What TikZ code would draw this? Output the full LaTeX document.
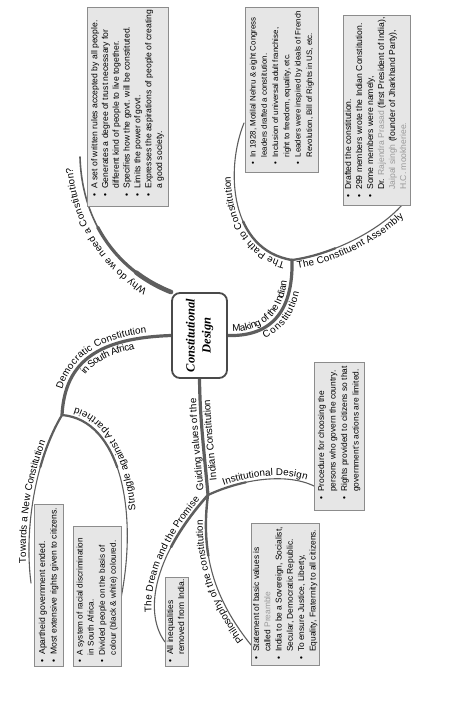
\documentclass[tikz,border=0pt]{standalone}
\usepackage{fontspec}
\setmainfont{Liberation Sans}
\newfontfamily\titlefont{Liberation Serif}
\usetikzlibrary{decorations.text,backgrounds}
\definecolor{MapLine}{HTML}{5E5E5E}
\definecolor{MapDark}{HTML}{4A4A4A}
\definecolor{MapBox}{HTML}{E6E6E6}
\definecolor{MapEdge}{HTML}{8C8C8C}
\definecolor{MapNote}{HTML}{9A9A9A}
\newcommand{\bul}{\makebox[0.85em][l]{\textbullet}}
\newcommand{\ind}{\hspace*{0.85em}}
\newcommand{\note}[1]{\textcolor{MapNote}{#1}}
% box height, font size, line skip, bottom pad, lines
\newcommand{\boxtext}[5]{\rotatebox{90}{\makebox[#1][l]{\hspace*{#4}\fontsize{#2}{#3}\selectfont
  \begin{tabular}{@{}l@{}}#5\end{tabular}}}}
\newcommand{\lblfont}{\fontsize{9.8}{11}\selectfont}

\begin{document}
\begin{tikzpicture}[x=1pt,y=-1pt,
    infobox/.style={draw=MapEdge,fill=MapBox,line width=0.8pt,inner sep=0pt},
    mainbranch/.style={draw=MapLine,line width=3.2pt,line cap=round},
    subbranch/.style={draw=MapLine,line width=1.1pt,line cap=round},
    thickfrom/.style 2 args={postaction={draw=MapLine,line width=#1,dash pattern=on #2 off 3000pt}},
    thickto/.style 2 args={postaction={draw=MapLine,line width=#1,dash pattern=on 3000pt off 3000pt,dash phase=#2}},
    lbl/.style n args={3}{postaction={decorate,decoration={text along path,
        text={|\lblfont|#1},raise=#2,text align={#3}}}}]
  \useasboundingbox (0,0) rectangle (474,701);
  % centre
  \node[draw=MapDark,line width=1.8pt,rounded corners=8pt,fill=white,
        minimum width=55pt,minimum height=85pt,inner sep=0pt] (cd) at (199.5,335.5)
       {\rotatebox{90}{\titlefont\bfseries\itshape\fontsize{12.5}{16}\selectfont
        \begin{tabular}{@{}c@{}}Constitutional\\Design\end{tabular}}};
  % info boxes
  \node[infobox,minimum width=81pt,minimum height=199pt] (bWhy) at (127.5,106.5) {\boxtext{199pt}{8.6}{10.8}{10pt}{%
    \bul A set of written rules accepted by all people.\\
    \bul Generates a degree of trust necessary for\\
    \ind different kind of people to live together.\\
    \bul Specifies how the govt. will be constituted.\\
    \bul Limits the power of govt.\\
    \bul Expresses the aspirations of people of creating\\
    \ind a good society.}};
  \node[infobox,minimum width=73pt,minimum height=165pt] (b1928) at (281.5,89.5) {\boxtext{165pt}{7.9}{11.3}{8pt}{%
    \bul In 1928, Motilal Nehru \& eight Congress\\
    \ind leaders drafted a constitution.\\
    \bul Inclusion of universal adult franchise,\\
    \ind right to freedom, equality, etc.\\
    \bul Leaders were inspired by ideals of French\\
    \ind Revolution, Bill of Rights in US, etc.}};
  \node[infobox,minimum width=67pt,minimum height=190pt] (bCA) at (376.5,110) {\boxtext{190pt}{8.6}{11}{8pt}{%
    \bul Drafted the constitution.\\
    \bul 299 members wrote the Indian Constitution.\\
    \bul Some members were namely,\\
    \ind Dr. \note{Rajendra Prasad} (first President of India),\\
    \ind \note{Jaipal singh} (founder of Jharkhand Party),\\
    \ind \note{H.C. mookheriee.}}};
  \node[infobox,minimum width=29pt,minimum height=162pt] (bTow) at (48.5,585) {\boxtext{162pt}{8.6}{11.5}{4pt}{%
    \bul Apartheid government ended.\\
    \bul Most extensive rights given to citizens.}};
  \node[infobox,minimum width=48pt,minimum height=140pt] (bStr) at (97,596) {\boxtext{140pt}{8.2}{11.1}{4pt}{%
    \bul A system of racial discrimination\\
    \ind in South Africa.\\
    \bul Divided people on the basis of\\
    \ind colour (black \& white) coloured.}};
  \node[infobox,minimum width=23pt,minimum height=89pt] (bDream) at (176.5,621.5) {\boxtext{89pt}{8.5}{11}{4pt}{%
    \bul All inequalities\\
    \ind removed from India.}};
  \node[infobox,minimum width=68pt,minimum height=142pt] (bPhil) at (285,594) {\boxtext{142pt}{8.4}{11.3}{6pt}{%
    \bul Statement of basic values is\\
    \ind called \note{Preamble}\\
    \bul India to be a Sovereign, Socialist,\\
    \ind Secular, Democratic Republic.\\
    \bul To ensure Justice, Liberty,\\
    \ind Equality, Fraternity to all citizens.}};
  \node[infobox,minimum width=50pt,minimum height=148pt] (bInst) at (339,436) {\boxtext{148pt}{8.4}{11.5}{11pt}{%
    \bul Procedure for choosing the\\
    \ind persons who govern the country.\\
    \bul Rights provided to citizens so that\\
    \ind government's actions are limited.}};
  % junctions and free ends
  \coordinate (jSA) at (62,415);
  \coordinate (jMK) at (292,260);
  \coordinate (jGV) at (208,495);
  \coordinate (eWhy) at (80,157);
  \coordinate (eTow) at (31,583);
  \coordinate (ePath) at (244,123);
  \coordinate (eCA) at (402,205);
  \coordinate (eInst) at (314,486);
  \coordinate (eDream) at (165,642);
  \coordinate (ePhil) at (251,645);
  \begin{scope}[on background layer]
    % main branches
    \draw[mainbranch,line width=1.6pt,thickfrom={3.2pt}{100pt},thickfrom={4.6pt}{40pt},
          lbl={Why do we need a Constitution?}{8pt}{left indent=22pt}]
      (cd.north west) .. controls (120,272) and (82,225) .. (eWhy);
    \draw[mainbranch,lbl={Democratic Constitution}{4pt}{center},
          lbl={in South Africa}{-10pt}{left indent=50pt}]
      (jSA) .. controls (65,360) and (100,338) .. (cd.west);
    \draw[mainbranch,lbl={Making of the Indian}{4pt}{left indent=5pt},
          lbl={Constitution}{-10pt}{left indent=33pt}]
      (cd.east) .. controls (280,337) and (293,300) .. (jMK);
    \draw[mainbranch,lbl={Guiding values of the}{4pt}{left indent=5pt},
          lbl={Indian Constitution}{-10pt}{left indent=14pt}]
      (jGV) .. controls (204,450) and (200,420) .. (cd.south);
    % sub branches
    \draw[subbranch,thickto={2.2pt}{5883pt},
          lbl={Towards a New Constitution}{3pt}{left indent=20pt}]
      (eTow) .. controls (24,530) and (35,460) .. (jSA);
    \draw[subbranch,thickto={2.2pt}{5870pt},
          lbl={Struggle against Apartheid}{-9.5pt}{left indent=85pt}]
      (bStr.east) .. controls (138,510) and (120,420) .. (jSA);
    \draw[subbranch,thickfrom={2.4pt}{65pt},
          lbl={The Path to Constitution}{3.5pt}{left indent=6pt}]
      (jMK) .. controls (230,250) and (225,170) .. (ePath);
    \draw[subbranch,thickfrom={2.2pt}{45pt},
          lbl={The Constituent Assembly}{-9.5pt}{left indent=4pt}]
      (jMK) .. controls (330,255) and (378,232) .. (eCA);
    \draw[subbranch,thickfrom={2.2pt}{40pt},
          lbl={Institutional Design}{3pt}{left indent=18pt}]
      (jGV) .. controls (240,480) and (285,472) .. (eInst);
    \draw[subbranch,thickto={2.6pt}{5900pt},
          lbl={The Dream and the Promise}{3pt}{left indent=32pt}]
      (eDream) .. controls (145,615) and (150,560) .. (jGV);
    \draw[subbranch,thickto={2.4pt}{5900pt},
          lbl={Philosophy of the constitution}{3pt}{left indent=8pt}]
      (ePhil) .. controls (215,600) and (200,555) .. (jGV);
  \end{scope}
\end{tikzpicture}
\end{document}
